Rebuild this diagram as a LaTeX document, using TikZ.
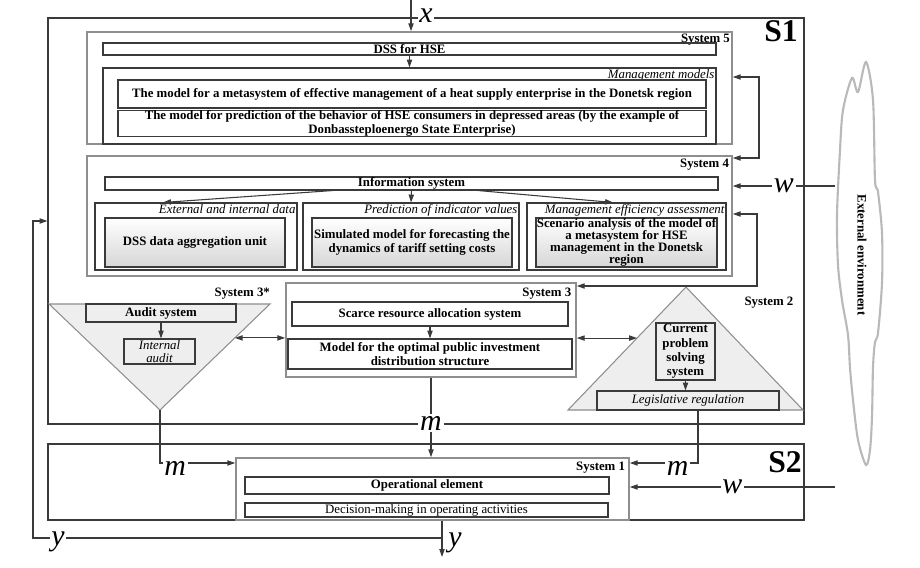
\documentclass[tikz,border=0pt]{standalone}
\usepackage{fontspec}
\setmainfont{Liberation Serif}
\usetikzlibrary{arrows.meta,calc}
\definecolor{frame}{HTML}{3A3A3A}
\definecolor{sysgray}{HTML}{8E8E8E}
\definecolor{shadegray}{HTML}{D6D6D6}
\tikzset{>={Triangle[length=4.5pt,width=3pt]},
  every node/.style={font=\fontsize{7.3}{8.3}\selectfont\bfseries},
  boxsize/.style 2 args={minimum width=#1*.02cm,minimum height=#2*.02cm},
  outer/.style={draw=frame,line width=.6pt,inner sep=0pt},
  sysbox/.style={draw=sysgray,line width=.9pt,inner sep=0pt},
  databox/.style={draw=frame,line width=.6pt,inner sep=0pt,align=center},
  unitbox/.style={databox,top color=white,bottom color=shadegray},
  tri/.style={draw=sysgray,line width=.6pt,fill=gray!13},
  syslabel/.style={anchor=north east,inner sep=1.5pt},
  caption/.style={anchor=north east,inner sep=1pt,
    font=\fontsize{7.3}{8.3}\selectfont\itshape},
  link/.style={->,draw=frame,line width=.6pt},
  dlink/.style={<->,draw=frame,line width=.6pt},
  flow/.style={fill=white,inner sep=1pt,font=\fontsize{17}{17}\selectfont\itshape},
  bigtag/.style={font=\fontsize{18}{18}\selectfont\bfseries},
  cloudline/.style={draw=gray!55,line width=1.2pt}}

\begin{document}
\begin{tikzpicture}[x=.02cm,y=-.02cm]
\path[use as bounding box,fill=white] (0,0) rectangle (920,568);
% outer systems S1 and S2
\node[outer,boxsize={756}{406}] (s1) at (426,221) {};
\node[outer,boxsize={756}{76}] (s2) at (426,482) {};
\node[bigtag] (s1tag) at (781,31) {S1};
\node[bigtag] (s2tag) at (785,462) {S2};

% System 5
\node[sysbox,boxsize={645}{112}] (sys5) at (409.5,88) {};
\node[syslabel] (sys5lab) at (sys5.north east) {System 5};
\node[databox,boxsize={613}{12}] (dss) at (409.5,49) {DSS for HSE};
\node[databox,boxsize={613}{76}] (mgmt) at (409.5,106) {};
\node[caption] (mgmtlab) at (mgmt.north east) {Management models};
\node[databox,boxsize={588}{28}] (metamodel) at (412,94)
  {The model for a metasystem of effective management of a heat supply enterprise in the Donetsk region};
\node[databox,boxsize={588}{25}] (consmodel) at (412,123.5)
  {The model for prediction of the behavior of HSE consumers in depressed areas  (by the example of\\Donbassteploenergo State Enterprise)};

% System 4
\node[sysbox,boxsize={645}{120}] (sys4) at (409.5,216) {};
\node[syslabel,inner sep=2pt] (sys4lab) at (sys4.north east) {System 4};
\node[databox,boxsize={613}{13}] (info) at (411.5,183.5) {Information system};
\node[databox,boxsize={202}{67}] (boxa) at (196,236.5) {};
\node[databox,boxsize={216}{67}] (boxb) at (411,236.5) {};
\node[databox,boxsize={199}{67}] (boxc) at (626.5,236.5) {};
\node[caption] (boxalab) at (boxa.north east) {External and internal data};
\node[caption] (boxblab) at (boxb.north east) {Prediction of indicator values};
\node[caption] (boxclab) at (boxc.north east) {Management efficiency assessment};
\node[unitbox,boxsize={180}{49}] (unita) at (195,242.5) {DSS data aggregation unit};
\node[unitbox,boxsize={200}{49}] (unitb) at (412,242.5)
  {Simulated model for forecasting the\\dynamics of tariff setting costs};
\node[unitbox,boxsize={181}{49},font=\fontsize{7.3}{6.9}\selectfont\bfseries] (unitc) at (626.5,242.5)
  {Scenario analysis of the model of\\a metasystem for HSE\\management in the Donetsk\\region};

% System 3
\node[sysbox,boxsize={290}{94}] (sys3) at (431,330) {};
\node[syslabel,inner sep=3pt] (sys3lab) at (sys3.north east) {System 3};
\node[databox,boxsize={276}{24}] (scarce) at (430,314) {Scarce resource allocation system};
\node[databox,boxsize={284}{30}] (optimal) at (430,354)
  {Model for the optimal public investment\\distribution structure};

% System 3*
\draw[tri] (49,304) coordinate (t3a) -- (270,304) coordinate (t3b)
  -- (160,410) coordinate (t3c) -- cycle;
\node[anchor=south east,inner sep=1pt] (sys3slab) at (272,301) {System 3*};
\node[databox,boxsize={150}{18}] (audit) at (161,313) {Audit system};
\node[databox,boxsize={71}{25},font=\fontsize{7.3}{7.4}\selectfont\itshape] (intaudit) at (159.5,351.5)
  {Internal\\audit};

% System 2
\draw[tri] (686,287) coordinate (t2a) -- (568,410) coordinate (t2b)
  -- (803,410) coordinate (t2c) -- cycle;
\node (sys2lab) at (769,303) {System 2};
\node[databox,boxsize={59}{57},font=\fontsize{7.3}{8.2}\selectfont\bfseries] (current) at (685.5,351.5)
  {Current\\problem\\solving\\system};
\node[databox,boxsize={182}{19},font=\fontsize{7.3}{8.3}\selectfont\itshape] (legis) at (688,400.5)
  {Legislative regulation};

% System 1
\node[sysbox,boxsize={393}{62}] (sys1) at (432.5,489) {};
\node[syslabel,inner sep=2.5pt] (sys1lab) at (sys1.north east) {System 1};
\node[databox,boxsize={364}{17}] (oper) at (427,485.5) {Operational element};
\node[databox,boxsize={363}{14},font=\fontsize{7.3}{8.3}\selectfont] (decis) at (426.5,510)
  {Decision-making in operating activities};

% external environment
\draw[cloudline] plot[smooth cycle,tension=.5] coordinates {(866,465) (858,440) (853,400)
  (850,368) (848,335) (842,300) (838,265) (837,215) (840,150) (843,110) (852,78) (858,92)
  (866,62) (873,100) (875,180) (878,192) (882,233) (882,283) (878,333) (875,342)
  (873,367) (872,417) (870,450)};
\node[rotate=-90] (extenv) at (862,255) {External environment};

% connectors
\coordinate (xtop) at (411,0);
\draw[link] (xtop) -- (xtop |- sys5.north);
\node[flow] (xlab) at (426,16) {x};
\draw[link] (dss.south) -- (mgmt.north);
\coordinate (fb5) at (759,77);
\coordinate (fb4) at (759,158);
\draw[dlink] (sys5.east |- fb5) -- (fb5) -- (fb4) -- (sys4.east |- fb4);
\coordinate (envw4) at (835,186);
\draw[link] (envw4) -- node[flow,pos=.5] {w} (sys4.east |- envw4);
\coordinate (fb43a) at (757,214);
\coordinate (fb43b) at (757,286);
\draw[dlink] (sys4.east |- fb43a) -- (fb43a) -- (fb43b) -- (sys3.east |- fb43b);
\draw[link] (info.south -| 333,0) -- (boxa.north -| 163,0);
\draw[link] (info.south) -- (boxb.north);
\draw[link] (info.south -| 478,0) -- (boxc.north -| 613,0);
\draw[link] (scarce.south) -- (scarce.south |- optimal.north);
\draw[link] (audit.south) -- (audit.south |- intaudit.north);
\draw[link] (current.south) -- (current.south |- legis.north);
\coordinate (t3e) at ($(t3b)!.32!(t3c)$);
\coordinate (t2e) at ($(t2a)!.415!(t2b)$);
\draw[dlink] (t3e) -- (sys3.west |- t3e);
\draw[dlink] (sys3.east |- t2e) -- (t2e);
\draw[link] (sys3.south) -- node[flow,pos=.57] {m} (sys1.north -| sys3.south);
\draw[link] (t3c) |- node[flow,pos=.6,yshift=-3pt] {m} (sys1.west |- 0,463);
\draw[link] (legis.south -| 698,0) |- node[flow,pos=.65,yshift=-3pt] {m} (sys1.east |- 0,463);
\coordinate (envw1) at (835,487);
\draw[link] (envw1) -- node[flow,pos=.5] {w} (sys1.east |- envw1);
\coordinate (ysplit) at (442,538);
\coordinate (yout) at (442,557);
\coordinate (yleft) at (33,538);
\draw[link] (sys1.south -| ysplit) -- (yout);
\draw[link] (ysplit) -- (yleft) |- (s1.west |- 0,221);
\node[flow] (ylab) at (58,542) {y};
\node[flow,fill=none] (youtlab) at (455,543) {y};
\end{tikzpicture}
\end{document}
